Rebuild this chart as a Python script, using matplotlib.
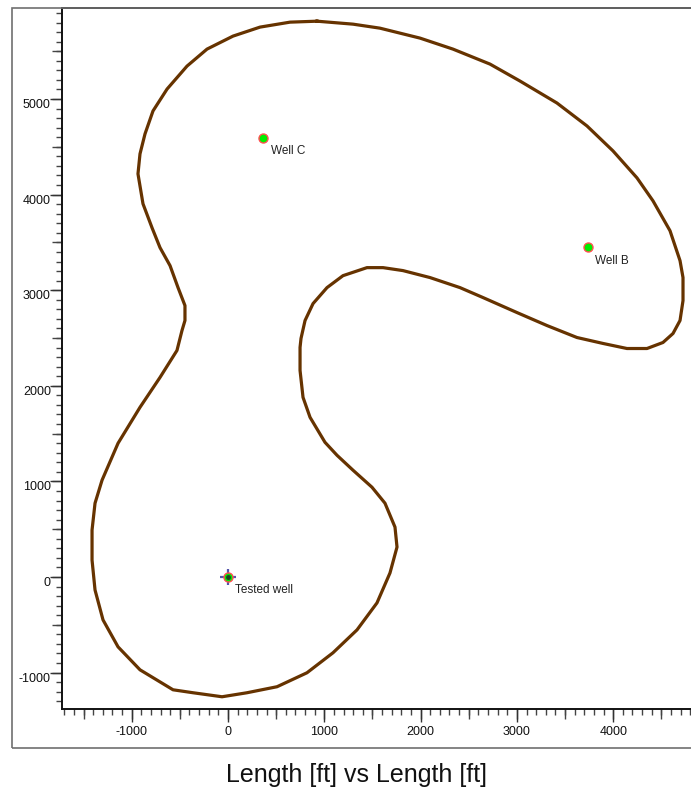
import matplotlib
matplotlib.use("Agg")
import matplotlib.pyplot as plt
from matplotlib.ticker import MultipleLocator
from matplotlib.patches import Rectangle

plt.rcParams['font.family'] = ['Liberation Sans', 'DejaVu Sans']
plt.rcParams['axes.unicode_minus'] = False

# Boundary contour (ft), clockwise from the top
boundary_x = [924, 1298, 1578, 1994, 2336, 2721, 3032, 3416, 3728, 3998, 4247, 4413,
              4590, 4694, 4725, 4725, 4694, 4621, 4517, 4351, 4143, 3894, 3624, 3313,
              3001, 2648, 2409, 2098, 1817, 1610, 1443, 1194, 1028, 883, 800, 758, 748,
              748, 779, 852, 1007, 1132, 1298, 1495, 1630, 1734, 1755, 1682, 1547, 1340,
              1090, 820, 509, 197, -62, -363, -571, -914, -1142, -1298, -1381, -1412,
              -1412, -1381, -1308, -1142, -914, -706, -530, -478, -447, -447, -519, -602,
              -706, -789, -883, -935, -914, -862, -779, -633, -426, -218, 52, 332, 644, 924]
boundary_y = [5814, 5783, 5741, 5637, 5522, 5365, 5188, 4958, 4718, 4457, 4175, 3935,
              3622, 3309, 3132, 2891, 2683, 2547, 2453, 2390, 2390, 2443, 2505, 2630,
              2766, 2923, 3027, 3132, 3205, 3236, 3236, 3152, 3027, 2860, 2683, 2495, 2401,
              2161, 1879, 1670, 1409, 1273, 1117, 939, 772, 522, 313, 42, -271, -553,
              -793, -1002, -1148, -1211, -1253, -1211, -1180, -971, -731, -449, -136, 177,
              491, 772, 1013, 1399, 1775, 2088, 2370, 2578, 2683, 2839, 3027, 3257,
              3445, 3653, 3904, 4217, 4426, 4635, 4875, 5104, 5344, 5522, 5658, 5752, 5804, 5814]

# Wells
well_names = ["Tested well", "Well C", "Well B"]
well_x = [0, 367, 3735]
well_y = [0, 4597, 3448]

x_limits = [-1724, 4808]
y_limits = [-1381, 5952]
x_tick_values = [-1000, 0, 1000, 2000, 3000, 4000]
y_tick_values = [-1000, 0, 1000, 2000, 3000, 4000, 5000]
title = "Length [ft] vs Length [ft]"

W, H = 691, 795
fig = plt.figure(figsize=(W / 100, H / 100), dpi=100)

# outer frame
fig.patches.append(Rectangle((12 / W, 1 - 748 / H), 1.2, (748 - 8) / H,
                             transform=fig.transFigure, fill=False,
                             edgecolor='#707070', linewidth=1.2))

ax_pos = [62 / W, 1 - 709 / H, (W - 62) / W, 701 / H]

# medium ticks (every 500)
axm = fig.add_axes(ax_pos, frameon=False)
axm.set_xlim(x_limits)
axm.set_ylim(y_limits)
axm.xaxis.set_major_locator(MultipleLocator(500))
axm.yaxis.set_major_locator(MultipleLocator(500))
axm.tick_params(which='major', direction='out', length=7, width=1, color='#444444',
                labelbottom=False, labelleft=False)
axm.set_facecolor('none')

ax = fig.add_axes(ax_pos)
ax.set_facecolor('none')
ax.set_xlim(x_limits)
ax.set_ylim(y_limits)

ax.plot(boundary_x, boundary_y, color='#663300', linewidth=2.3, solid_joinstyle='round')

# wells
ax.plot(well_x[0], well_y[0], marker='+', markersize=11, markeredgewidth=1.6,
        color='#5555aa', linestyle='none', zorder=4)
ax.plot(well_x, well_y, marker='o', markersize=6.5, markerfacecolor='#00ee00',
        markeredgecolor='#ff5050', markeredgewidth=1.0, linestyle='none', zorder=5)
ax.plot(well_x[0], well_y[0], marker='o', markersize=2.5, color='#224422',
        linestyle='none', zorder=6)

for name, wx, wy in zip(well_names, well_x, well_y):
    ax.annotate(name, (wx, wy), xytext=(5.2, -9.6), textcoords='offset points',
                ha='left', va='center', fontsize=8.5, color='#222222')

ax.set_xticks(x_tick_values)
ax.set_yticks(y_tick_values)
ax.xaxis.set_minor_locator(MultipleLocator(100))
ax.yaxis.set_minor_locator(MultipleLocator(100))
ax.tick_params(which='major', direction='out', length=9, width=1, color='#333333',
               labelsize=9, labelcolor='#111111')
ax.tick_params(axis='x', which='major', pad=3)
ax.tick_params(axis='y', which='major', pad=-1)
ax.tick_params(which='minor', direction='out', length=4.5, width=1, color='#444444')
for lab in ax.get_yticklabels():
    lab.set_va('top')

ax.spines['right'].set_visible(False)
for s in ['left', 'bottom', 'top']:
    ax.spines[s].set_linewidth(1.4)
    ax.spines[s].set_color('#111111')

fig.text(357 / W, 1 - 775 / H, title, ha='center', va='center', fontsize=18, color='#111111')

fig.savefig("out.png", dpi=100)
